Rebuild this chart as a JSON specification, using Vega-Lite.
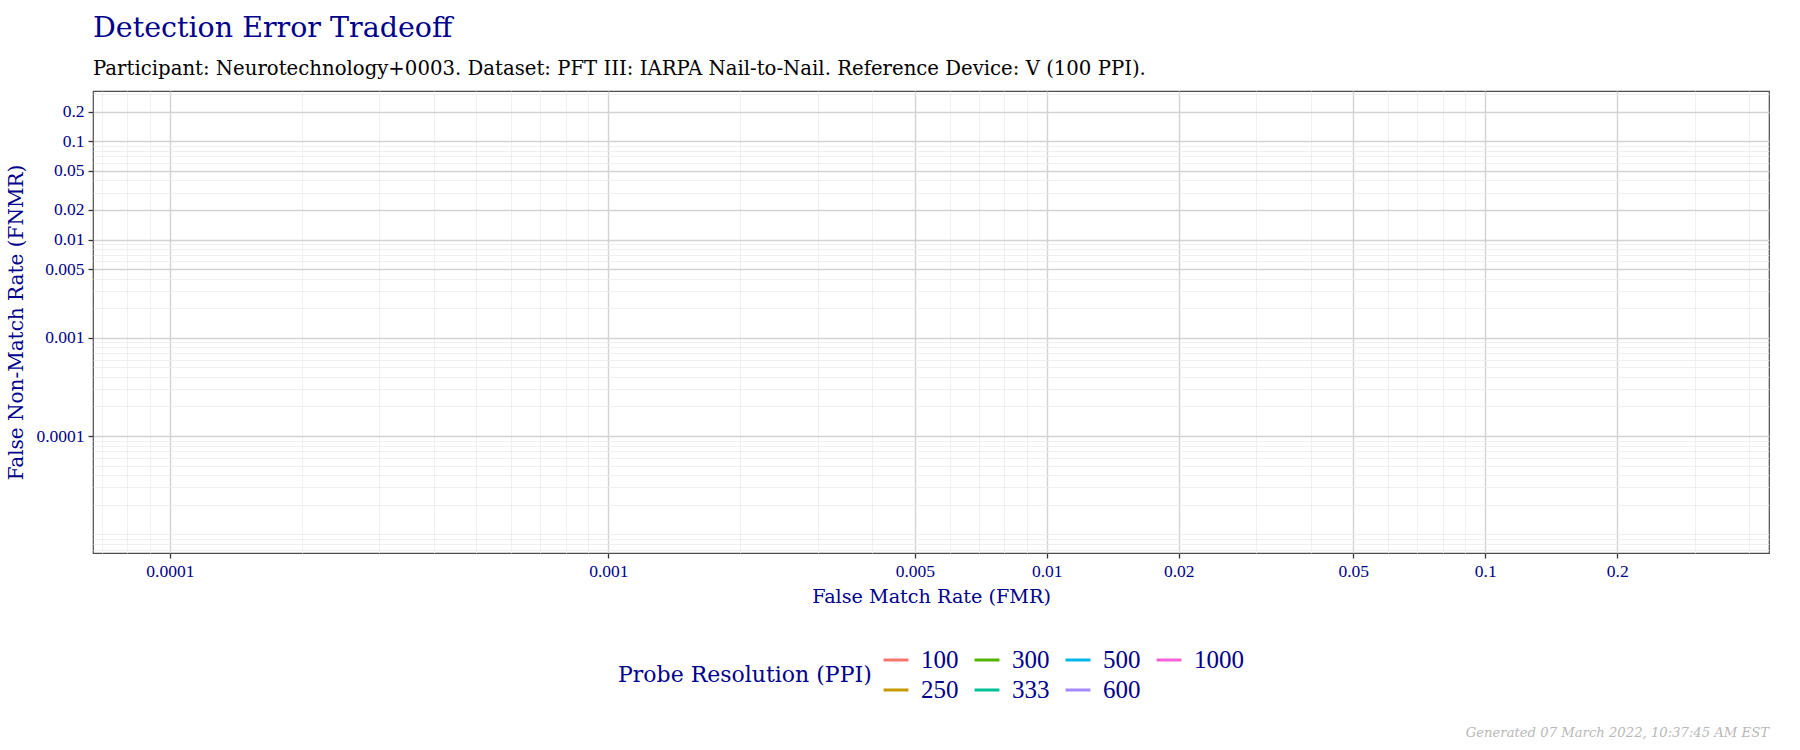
{
  "$schema": "https://vega.github.io/schema/vega-lite/v6.json",
  "autosize": {"type": "none"},
  "width": 1676,
  "height": 462,
  "padding": {"left": 93, "top": 91, "right": 31, "bottom": 197},
  "background": "white",
  "title": {
    "text": "Detection Error Tradeoff",
    "subtitle": "Participant: Neurotechnology+0003. Dataset: PFT III: IARPA Nail-to-Nail. Reference Device: V (100 PPI).",
    "anchor": "start",
    "frame": "group",
    "font": "DejaVu Serif",
    "fontSize": 28.5,
    "fontWeight": "normal",
    "color": "#00008B",
    "subtitleFont": "DejaVu Serif",
    "subtitleFontSize": 19.7,
    "subtitleColor": "#000000",
    "subtitlePadding": 16,
    "offset": 7
  },
  "datasets": {
    "det": [
      {"ppi": "100", "fmr": null, "fnmr": null},
      {"ppi": "250", "fmr": null, "fnmr": null},
      {"ppi": "300", "fmr": null, "fnmr": null},
      {"ppi": "333", "fmr": null, "fnmr": null},
      {"ppi": "500", "fmr": null, "fnmr": null},
      {"ppi": "600", "fmr": null, "fnmr": null},
      {"ppi": "1000", "fmr": null, "fnmr": null}
    ],
    "footer": [
      {"note": "Generated 07 March 2022, 10:37:45 AM EST"}
    ]
  },
  "layer": [
    {
      "data": {"name": "det"},
      "mark": {"type": "line", "strokeWidth": 2},
      "encoding": {
        "x": {
          "field": "fmr",
          "type": "quantitative",
          "title": "False Match Rate (FMR)",
          "scale": {"type": "log", "domain": [0.0000668, 0.4436], "nice": false},
          "axis": {
            "values": [0.00007, 0.00008, 0.00009, 0.0001, 0.0002, 0.0003, 0.0004, 0.0005, 0.0006, 0.0007, 0.0008, 0.0009, 0.001, 0.002, 0.003, 0.004, 0.005, 0.006, 0.007, 0.008, 0.009, 0.01, 0.02, 0.03, 0.04, 0.05, 0.06, 0.07, 0.08, 0.09, 0.1, 0.2, 0.3, 0.4],
            "labelExpr": "indexof([0.0001, 0.001, 0.005, 0.01, 0.02, 0.05, 0.1, 0.2], datum.value) >= 0 ? format(datum.value, '~g') : ''",
            "gridColor": {"condition": {"test": "indexof([0.0001, 0.001, 0.005, 0.01, 0.02, 0.05, 0.1, 0.2], datum.value) >= 0", "value": "#d3d3d3"}, "value": "#ececec"},
            "gridWidth": {"condition": {"test": "indexof([0.0001, 0.001, 0.005, 0.01, 0.02, 0.05, 0.1, 0.2], datum.value) >= 0", "value": 1.4}, "value": 0.8},
            "tickOpacity": {"condition": {"test": "indexof([0.0001, 0.001, 0.005, 0.01, 0.02, 0.05, 0.1, 0.2], datum.value) >= 0", "value": 1}, "value": 0},
            "titleFontSize": 19.2,
            "titlePadding": 8
          }
        },
        "y": {
          "field": "fnmr",
          "type": "quantitative",
          "title": "False Non-Match Rate (FNMR)",
          "scale": {"type": "log", "domain": [0.00000646, 0.3245], "nice": false},
          "axis": {
            "values": [0.000007, 0.000008, 0.000009, 0.00001, 0.00002, 0.00003, 0.00004, 0.00005, 0.00006, 0.00007, 0.00008, 0.00009, 0.0001, 0.0002, 0.0003, 0.0004, 0.0005, 0.0006, 0.0007, 0.0008, 0.0009, 0.001, 0.002, 0.003, 0.004, 0.005, 0.006, 0.007, 0.008, 0.009, 0.01, 0.02, 0.03, 0.04, 0.05, 0.06, 0.07, 0.08, 0.09, 0.1, 0.2, 0.3],
            "labelExpr": "indexof([0.0001, 0.001, 0.005, 0.01, 0.02, 0.05, 0.1, 0.2], datum.value) >= 0 ? format(datum.value, '~g') : ''",
            "gridColor": {"condition": {"test": "indexof([0.0001, 0.001, 0.005, 0.01, 0.02, 0.05, 0.1, 0.2], datum.value) >= 0", "value": "#d3d3d3"}, "value": "#ececec"},
            "gridWidth": {"condition": {"test": "indexof([0.0001, 0.001, 0.005, 0.01, 0.02, 0.05, 0.1, 0.2], datum.value) >= 0", "value": 1.4}, "value": 0.8},
            "tickOpacity": {"condition": {"test": "indexof([0.0001, 0.001, 0.005, 0.01, 0.02, 0.05, 0.1, 0.2], datum.value) >= 0", "value": 1}, "value": 0},
            "titleFontSize": 20,
            "titlePadding": 9
          }
        },
        "color": {
          "field": "ppi",
          "type": "nominal",
          "title": "Probe Resolution (PPI)",
          "scale": {
            "domain": ["100", "300", "500", "1000", "250", "333", "600"],
            "range": ["#F8766D", "#53B400", "#00B6EB", "#FB61D7", "#C49A00", "#00C094", "#A58AFF"]
          },
          "legend": {
            "orient": "none",
            "legendX": 525,
            "legendY": 555,
            "direction": "horizontal",
            "columns": 4,
            "titleOrient": "left",
            "titleAnchor": "middle",
            "titleBaseline": "middle",
            "titlePadding": 10,
            "columnPadding": 9,
            "rowPadding": 3,
            "symbolType": "stroke",
            "symbolSize": 620,
            "symbolStrokeWidth": 3,
            "labelOffset": 11
          }
        }
      }
    },
    {
      "data": {"name": "footer"},
      "mark": {
        "type": "text",
        "align": "right",
        "baseline": "alphabetic",
        "font": "DejaVu Serif",
        "fontStyle": "italic",
        "fontSize": 13.2,
        "color": "#b8b8b8",
        "dy": 184
      },
      "encoding": {
        "x": {"value": "width"},
        "y": {"value": "height"},
        "text": {"field": "note"}
      }
    }
  ],
  "config": {
    "view": {"stroke": "#4d4d4d", "strokeWidth": 1.2},
    "axis": {
      "domain": false,
      "grid": true,
      "ticks": true,
      "tickColor": "#333333",
      "tickSize": 5,
      "tickWidth": 1.3,
      "labelFont": "Liberation Serif",
      "labelFontSize": 17.5,
      "labelColor": "#00008B",
      "labelPadding": 4,
      "labelOverlap": false,
      "labelBound": false,
      "labelFlush": false,
      "titleFont": "DejaVu Serif",
      "titleFontSize": 20,
      "titleFontWeight": "normal",
      "titleColor": "#00008B"
    },
    "legend": {
      "labelFont": "Liberation Serif",
      "labelFontSize": 25,
      "labelColor": "#00008B",
      "titleFont": "DejaVu Serif",
      "titleFontSize": 22,
      "titleFontWeight": "normal",
      "titleColor": "#00008B",
      "titleLimit": 400
    }
  }
}
